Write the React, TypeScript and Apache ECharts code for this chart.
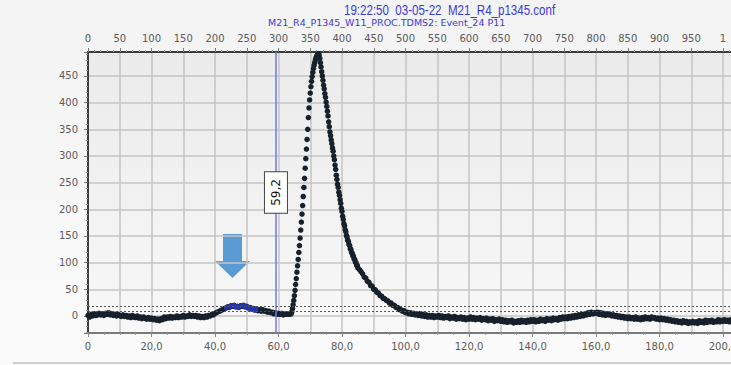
import React, { useEffect, useRef } from "react";
import * as echarts from "echarts";

// Signal trace, sampled in segments: [start ms, step ms, values]
const BASELINE_START = 0;
const BASELINE_STEP = 0.5;
const BASELINE_VALUES = [
  1, -2, 3, 0, 4, 1, 2, 5, 2, 4, 1, 5, 3, 6, 2, 4, 1, 3, 0, 3,
  1, -1, 2, -1, 1, -2, 0, -3, 1, -2, -3, 0, -4, -2, -5, -2, -4, -6, -3, -6,
  -4, -7, -5, -8, -6, -9, -5, -7, -2, -5, -2, -4, -1, -4, -2, -3, 0, -3, -1, -2,
  1, -2, 0, -1, 2, -1, 1, -1, 1, -2, 0, -3, -1, -3, 0, -2, 1, 0, 3, 2,
  5, 6, 8, 9, 11, 12, 14, 15, 17, 16, 19, 18, 20, 17, 18, 16, 19, 18, 20, 17,
  18, 15, 16, 13, 14, 11, 13, 10, 12, 9, 12, 9, 10, 7, 9, 6, 7, 4, 6, 3,
  5, 3, 5, 2, 4, 3, 4, 3,
];

const PEAK_START = 64;
const PEAK_STEP = 0.2;
const PEAK_VALUES = [
  4, 8, 14, 21, 29, 38, 48, 59, 70, 82,
  94, 106, 119, 132, 146, 161, 176, 191, 207, 224,
  241, 258, 277, 295, 313, 331, 350, 372, 390, 405,
  418, 430, 440, 449, 457, 464, 470, 475, 480, 484,
  487, 489, 491, 492,
  489, 483, 475, 467, 458, 450, 442, 433, 426, 417,
  410, 401, 393, 384, 375, 364, 355, 345, 338, 330,
  323, 315, 309, 300, 293, 283, 275, 264, 256, 247,
  241, 232, 226, 218, 211, 202, 196, 187, 181, 173,
  169, 162, 158, 151, 148, 142, 140, 134, 132, 126,
  125, 119, 118, 113, 112, 107, 106, 101, 100, 95,
  95, 90,
];

const TAIL_START = 85.5;
const TAIL_STEP = 0.5;
const TAIL_VALUES = [
  87, 83, 79, 73, 71, 65, 63, 57, 56, 50,
  49, 44, 43, 38, 37, 33, 32, 29, 28, 24,
  24, 20, 20, 16, 16, 12, 12, 9, 10, 6,
];

const LATE_START = 100.5;
const LATE_STEP = 0.5;
const LATE_VALUES = [
  7, 4, 6, 3, 5, 2, 4, 1, 4, 0, 3, -1, 2, -2, 1, -2, 1, -3, 0, -2,
  1, -3, 0, -4, -1, -3, 0, -5, -2, -4, -1, -6, -3, -5, -2, -6, -3, -7, -4, -6,
  -2, -6, -3, -7, -4, -6, -3, -8, -5, -7, -4, -9, -6, -8, -5, -10, -7, -9, -6, -10,
  -7, -11, -8, -12, -9, -11, -8, -13, -10, -12, -9, -12, -8, -11, -9, -12, -8, -11, -7, -10,
  -7, -11, -8, -10, -6, -9, -7, -10, -5, -8, -6, -9, -4, -7, -5, -8, -3, -6, -2, -5,
  -2, -5, -1, -4, 0, -3, 1, -2, 2, -1, 3, 0, 4, 2, 6, 3, 7, 4, 6, 5,
  7, 3, 6, 2, 5, 1, 4, 2, 3, 0, 2, -1, 1, -2, 0, -3, -1, -4, -2, -5,
  -2, -5, -3, -6, -2, -6, -4, -7, -3, -6, -2, -5, -3, -6, -2, -4, -3, -6, -4, -7,
  -4, -7, -5, -8, -6, -9, -7, -10, -8, -11, -9, -12, -10, -13, -9, -12, -10, -14, -11, -13,
  -10, -13, -11, -14, -9, -12, -10, -13, -8, -12, -9, -11, -8, -12, -10, -11, -7, -11, -8, -10,
  -7, -10, -8, -11, -7, -9, -6, -10, -8, -11, -7, -10, -6, -9, -8, -10, -7, -9, -6, -9,
];

// Selected (highlighted) window, cursor and threshold levels
const SELECT_FROM_MS = 43.5;
const SELECT_TO_MS = 53;
const CURSOR_MS = 59.2;
const THRESHOLD_HIGH = 19;
const THRESHOLD_LOW = 8;

// Axes: time in ms below, sample index above (5 samples per ms)
const X_MAX_MS = 208;
const SAMPLES_PER_MS = 5;
const Y_MIN = -32;
const Y_MAX = 495;

const TITLE = "19:22:50  03-05-22  M21_R4_p1345.conf";
const SUBTITLE = "M21_R4_P1345_W11_PROC.TDMS2: Event_24 P11";

function segment(start: number, step: number, values: number[]): number[][] {
  return values.map((v, i) => [Math.round((start + i * step) * 100) / 100, v]);
}

const trace = [
  ...segment(BASELINE_START, BASELINE_STEP, BASELINE_VALUES),
  ...segment(PEAK_START, PEAK_STEP, PEAK_VALUES),
  ...segment(TAIL_START, TAIL_STEP, TAIL_VALUES),
  ...segment(LATE_START, LATE_STEP, LATE_VALUES),
];
const selected = trace.filter((p) => p[0] >= SELECT_FROM_MS && p[0] <= SELECT_TO_MS);

const fmtMs = (v: number) => (v === 0 ? "0" : v.toFixed(1).replace(".", ","));

export default function App() {
  const ref = useRef<HTMLDivElement>(null);

  useEffect(() => {
    if (!ref.current) return;
    const chart = echarts.init(ref.current, undefined, { renderer: "svg" });
    const labelFont = { fontFamily: "DejaVu Sans", fontSize: 10, color: "#5a5a5a" };
    chart.setOption({
      animation: false,
      backgroundColor: "transparent",
      grid: {
        left: 88,
        top: 52,
        bottom: 32,
        width: X_MAX_MS * 3.175,
        show: true,
        borderWidth: 0,
        backgroundColor: new echarts.graphic.LinearGradient(0, 0, 0, 1, [
          { offset: 0, color: "#ebebeb" },
          { offset: 1, color: "#f8f8f8" },
        ]),
      },
      xAxis: [
        {
          type: "value",
          position: "bottom",
          min: 0,
          max: X_MAX_MS,
          interval: 20,
          axisLine: { show: true, onZero: false, lineStyle: { color: "#7a7a7a", width: 2 } },
          axisTick: { show: true, length: 4, lineStyle: { color: "#888" } },
          minorTick: { show: true, splitNumber: 4, length: 2, lineStyle: { color: "#999" } },
          axisLabel: { ...labelFont, margin: 8, formatter: fmtMs, showMaxLabel: false },
          splitLine: { show: false },
        },
        {
          type: "value",
          position: "top",
          min: 0,
          max: X_MAX_MS * SAMPLES_PER_MS,
          interval: 50,
          axisLine: { show: true, onZero: false, lineStyle: { color: "#3c3c3c", width: 2 } },
          axisTick: { show: true, length: 4, lineStyle: { color: "#777" } },
          minorTick: { show: true, splitNumber: 5, length: 2, lineStyle: { color: "#999" } },
          axisLabel: {
            ...labelFont,
            margin: 9,
            showMaxLabel: false,
            formatter: (v: number) => (v === 1000 ? "1" : String(v)),
          },
          splitLine: { show: true, lineStyle: { color: "#c4c4c4", width: 1.5 } },
        },
      ],
      yAxis: {
        type: "value",
        min: Y_MIN,
        max: Y_MAX,
        splitNumber: 10,
        axisLine: { show: true, onZero: false, lineStyle: { color: "#3c3c3c", width: 2 } },
        axisTick: { show: true, length: 4, lineStyle: { color: "#777" } },
        minorTick: { show: true, splitNumber: 5, length: 2, lineStyle: { color: "#999" } },
        axisLabel: { ...labelFont, margin: 10, showMinLabel: false, showMaxLabel: false },
        splitLine: { show: true, lineStyle: { color: "#c4c4c4", width: 1.5 } },
      },
      series: [
        {
          name: "signal",
          type: "scatter",
          xAxisIndex: 0,
          symbol: "circle",
          symbolSize: 5.5,
          itemStyle: { color: "#17212c", opacity: 1 },
          data: trace,
          silent: true,
          markLine: {
            silent: true,
            symbol: "none",
            data: [
              {
                xAxis: CURSOR_MS,
                lineStyle: { color: "#7373f0", width: 1.5, type: "solid" },
                label: {
                  show: true,
                  position: "middle",
                  distance: 0,
                  align: "center",
                  verticalAlign: "middle",
                  formatter: fmtMs(CURSOR_MS),
                  fontFamily: "DejaVu Sans",
                  fontSize: 12,
                  color: "#111",
                  backgroundColor: "#ffffff",
                  borderColor: "#444",
                  borderWidth: 1,
                  padding: [5, 7],
                },
              },
              {
                yAxis: THRESHOLD_HIGH,
                lineStyle: { color: "#555", width: 1, type: [2, 2] },
                label: { show: false },
              },
              {
                yAxis: THRESHOLD_LOW,
                lineStyle: { color: "#555", width: 1, type: [2, 2] },
                label: { show: false },
              },
            ],
          },
        },
        {
          name: "selection",
          type: "scatter",
          xAxisIndex: 0,
          symbol: "circle",
          symbolSize: 4.5,
          itemStyle: { color: "#2233b8", opacity: 1 },
          data: selected,
          silent: true,
        },
      ],
      graphic: [
        {
          type: "text",
          x: 344,
          y: 2,
          scaleX: 0.77,
          style: {
            text: TITLE,
            fontFamily: "Liberation Sans",
            fontSize: 15,
            fill: "#3b3bd9",
          },
        },
        {
          type: "text",
          x: 268,
          y: 17,
          style: {
            text: SUBTITLE,
            fontFamily: "DejaVu Sans",
            fontSize: 9.5,
            fill: "#3b3bd9",
          },
        },
        {
          type: "polygon",
          shape: {
            points: [
              [223, 234],
              [242, 234],
              [242, 261],
              [250, 261],
              [232.5, 278],
              [215, 261],
              [223, 261],
            ],
          },
          style: { fill: "#5b9bd5" },
        },
        {
          type: "line",
          shape: { x1: 13, y1: 363, x2: 780, y2: 363 },
          style: { stroke: "#cfcfcf", lineWidth: 2 },
        },
      ],
    });
    return () => chart.dispose();
  }, []);

  return (
    <div
      style={{
        position: "fixed",
        left: 0,
        top: 0,
        width: 731,
        height: 365,
        overflow: "hidden",
        background: "linear-gradient(to bottom, #f3f3f3, #fbfbfb)",
      }}
    >
      <div ref={ref} style={{ width: 780, height: 365 }} />
    </div>
  );
}
